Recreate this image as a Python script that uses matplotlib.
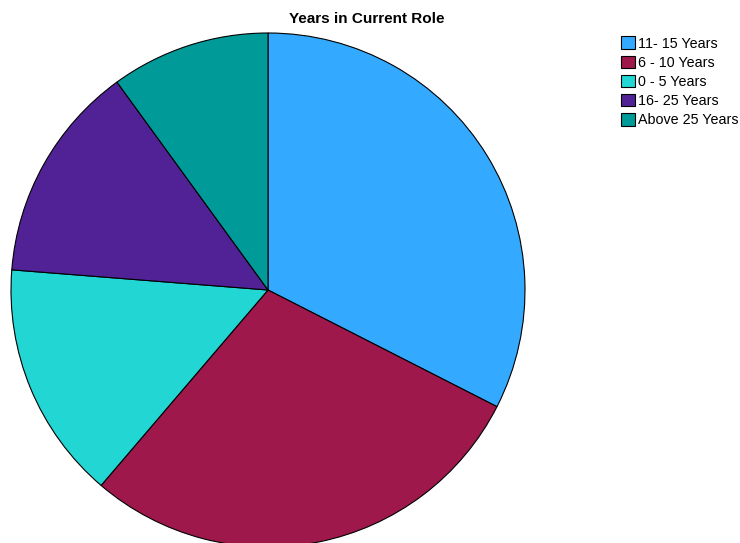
import matplotlib
matplotlib.use("Agg")
import matplotlib.pyplot as plt

plt.rcParams['font.family'] = ['Liberation Sans', 'DejaVu Sans']

categories = ["11- 15 Years", "6 - 10 Years", "0 - 5 Years", "16- 25 Years", "Above 25 Years"]
counts = [26, 23, 12, 11, 8]
colors = ["#33AAFF", "#9E184C", "#22D6D4", "#512296", "#009A98"]

W, H = 740, 543
fig = plt.figure(figsize=(W / 100, H / 100), dpi=100)

# pie centre and radius in pixels
cx, cy, r = 268, 290, 257
ax = fig.add_axes([(cx - r) / W, (H - cy - r) / H, 2 * r / W, 2 * r / H])
wedges, _ = ax.pie(counts, colors=colors, startangle=90, counterclock=False,
                   radius=1.0, wedgeprops=dict(edgecolor="black", linewidth=0.8))
ax.set_xlim(-1.0, 1.0)
ax.set_ylim(-1.0, 1.0)
ax.set_aspect("equal")
ax.axis("off")
for w in wedges:
    w.set_clip_on(False)

fig.text(367 / W, 1 - 19 / H, "Years in Current Role", ha="center", va="center",
         fontsize=11, fontweight="bold")

leg = fig.legend(wedges, categories, loc="upper left",
                 bbox_to_anchor=(620 / W, 1 - 35 / H), frameon=False,
                 fontsize=10.3, handlelength=0.95, handleheight=0.95,
                 handletextpad=0.2, labelspacing=0.36, borderpad=0.1,
                 borderaxespad=0)
for h in leg.legend_handles:
    h.set_edgecolor("black")
    h.set_linewidth(0.8)

fig.savefig("out.png", dpi=100)
